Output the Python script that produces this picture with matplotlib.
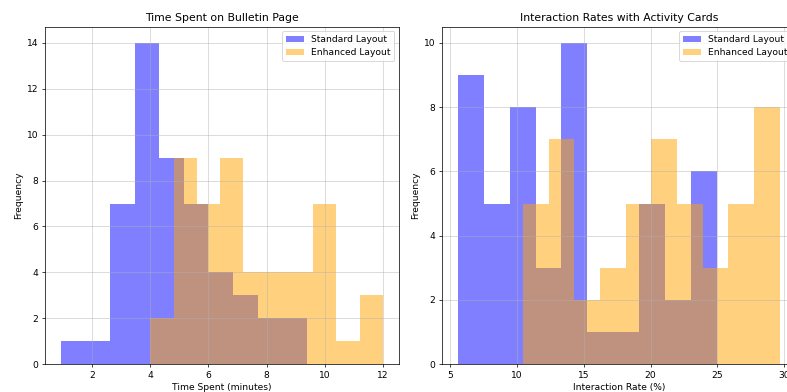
import matplotlib.pyplot as plt

# time spent on bulletin page (minutes)
time_standard = [0.93, 2.2,
                 2.7, 2.85, 3.0, 3.1, 3.2, 3.3, 3.4,
                 3.5, 3.55, 3.6, 3.65, 3.7, 3.75, 3.8, 3.85, 3.9, 3.95, 4.0, 4.1, 4.2, 4.25,
                 4.35, 4.45, 4.5, 4.6, 4.7, 4.8, 4.9, 5.0, 5.1,
                 5.2, 5.3, 5.45, 5.55, 5.65, 5.8, 5.9,
                 6.1, 6.3, 6.5, 6.7,
                 7.0, 7.2, 7.5,
                 7.9, 8.3,
                 8.8, 9.38]
time_enhanced = [4.0, 4.5,
                 4.85, 4.95, 5.0, 5.1, 5.2, 5.3, 5.4, 5.45, 5.55,
                 5.7, 5.8, 5.9, 6.0, 6.1, 6.2, 6.3,
                 6.45, 6.55, 6.6, 6.7, 6.8, 6.9, 7.0, 7.05, 7.15,
                 7.3, 7.5, 7.7, 7.9,
                 8.1, 8.3, 8.5, 8.7,
                 8.9, 9.1, 9.3, 9.5,
                 9.7, 9.8, 9.9, 10.0, 10.1, 10.2, 10.3,
                 10.8,
                 11.4, 11.7, 12.0]

# interaction rates with activity cards (%)
rate_standard = [5.55, 5.8, 6.0, 6.3, 6.5, 6.7, 6.9, 7.1, 7.3,
                 7.7, 8.1, 8.5, 8.9, 9.2,
                 9.6, 9.8, 10.0, 10.3, 10.5, 10.7, 10.9, 11.2,
                 11.7, 12.3, 12.9,
                 13.4, 13.6, 13.8, 14.0, 14.2, 14.4, 14.6, 14.8, 15.0, 15.1,
                 16.2,
                 18.0,
                 19.4, 19.8, 20.2, 20.5, 20.9,
                 21.8, 22.5,
                 23.3, 23.7, 24.0, 24.3, 24.6, 24.98]
rate_enhanced = [10.43, 10.9, 11.4, 11.8, 12.2,
                 12.5, 12.8, 13.1, 13.4, 13.7, 13.9, 14.1,
                 14.9, 15.6,
                 16.6, 17.2, 17.8,
                 18.4, 18.8, 19.2, 19.6, 19.9,
                 20.2, 20.5, 20.8, 21.1, 21.4, 21.6, 21.8,
                 22.2, 22.6, 23.0, 23.4, 23.7,
                 24.3, 24.9, 25.5,
                 26.0, 26.4, 26.8, 27.2, 27.6,
                 27.9, 28.1, 28.4, 28.7, 28.9, 29.1, 29.4, 29.68]

DPI = 787 / 12
fig = plt.figure(figsize=(787 / DPI, 392 / DPI), dpi=DPI)

# axes placed by hand; the right one runs past the figure edge like the reference
ax1 = fig.add_axes([0.0571, 0.0707, 0.4499, 0.8612])
ax2 = fig.add_axes([0.5612, 0.0707, 0.4499, 0.8612])

ax1.hist(time_standard, bins=10, alpha=0.5, color='blue', label='Standard Layout')
ax1.hist(time_enhanced, bins=10, alpha=0.5, color='orange', label='Enhanced Layout')
ax1.set_title('Time Spent on Bulletin Page')
ax1.set_xlabel('Time Spent (minutes)')
ax1.set_ylabel('Frequency')
ax1.legend(loc='upper right')
ax1.grid(True, alpha=0.6)

ax2.hist(rate_standard, bins=10, alpha=0.5, color='blue', label='Standard Layout')
ax2.hist(rate_enhanced, bins=10, alpha=0.5, color='orange', label='Enhanced Layout')
ax2.set_title('Interaction Rates with Activity Cards')
ax2.set_xlabel('Interaction Rate (%)')
ax2.set_ylabel('Frequency')
ax2.legend(loc='upper right')
ax2.grid(True, alpha=0.6)

fig.savefig('out.png', dpi=DPI)
